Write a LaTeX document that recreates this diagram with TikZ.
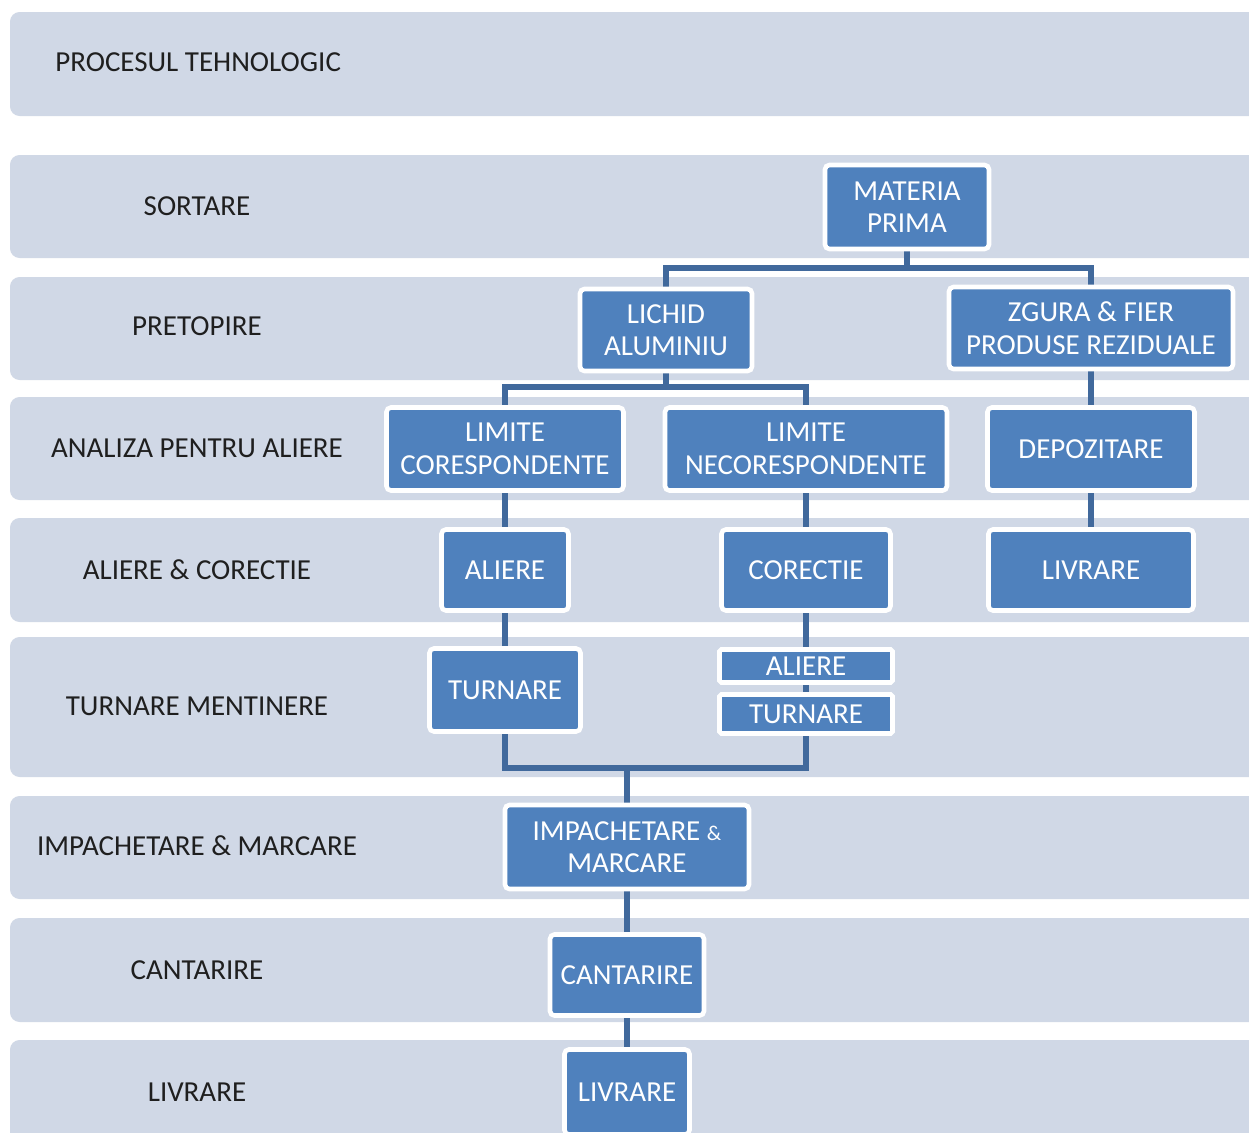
\documentclass[tikz,border=0pt]{standalone}
\usepackage{fontspec}
\setmainfont{Carlito}
\usetikzlibrary{positioning}

\definecolor{banda}{HTML}{D0D8E6}
\definecolor{cutie}{HTML}{4F81BD}
\definecolor{linie}{HTML}{41699C}

\pgfdeclarelayer{fundal}
\pgfdeclarelayer{linii}
\pgfsetlayers{fundal,linii,main}

\tikzset{
  etapa/.style={fill=banda, rounded corners=5.5pt},
  eticheta/.style={font=\fontsize{16.5}{18.5}\selectfont, text=black!88},
  cutie/.style={draw=white, line width=2.6pt, fill=cutie, rounded corners=2.5pt,
                text=white, font=\fontsize{16.5}{18.5}\selectfont, align=center, inner sep=0pt},
  legatura/.style={draw=linie, line width=3.2pt},
}

\begin{document}
\begin{tikzpicture}[x=0.02cm, y=-0.02cm]

\clip (0,0) rectangle (1249,1133);
\useasboundingbox (0,0) rectangle (1249,1133);

% --- Benzi de fundal ---
\begin{pgfonlayer}{fundal}
\fill[white] (0,0) rectangle (1249,1133);
\fill[etapa] (10,12)   rectangle (1280,116);
\fill[etapa] (10,155)  rectangle (1280,258);
\fill[etapa] (10,277)  rectangle (1280,380);
\fill[etapa] (10,397)  rectangle (1280,500);
\fill[etapa] (10,518)  rectangle (1280,622);
\fill[etapa] (10,637)  rectangle (1280,777);
\fill[etapa] (10,796)  rectangle (1280,899);
\fill[etapa] (10,918)  rectangle (1280,1022);
\fill[etapa] (10,1040) rectangle (1280,1160);
\end{pgfonlayer}

% --- Etichete etape ---
\node[eticheta, anchor=west, inner sep=0pt] (proc) at (55,62) {PROCESUL TEHNOLOGIC};
\node[eticheta] (e1) at (197,206)  {SORTARE};
\node[eticheta] (e2) at (197,326)  {PRETOPIRE};
\node[eticheta] (e3) at (197,448)  {ANALIZA PENTRU ALIERE};
\node[eticheta] (e4) at (197,570)  {ALIERE \& CORECTIE};
\node[eticheta] (e5) at (197,706)  {TURNARE MENTINERE};
\node[eticheta] (e6) at (197,846)  {IMPACHETARE \& MARCARE};
\node[eticheta] (e7) at (197,970)  {CANTARIRE};
\node[eticheta] (e8) at (197,1092) {LIVRARE};

% --- Sortare si pretopire ---
\node[cutie, minimum width=3.28cm, minimum height=1.68cm] (mp) at (907,207) {MATERIA\\PRIMA};
\node[cutie, minimum width=3.44cm, minimum height=1.64cm] (lich) at (666,330) {LICHID\\ALUMINIU};
\node[cutie, minimum width=5.68cm, minimum height=1.64cm] (zg) at (1091,328) {ZGURA \& FIER\\PRODUSE REZIDUALE};

% --- Analiza ---
\node[cutie, minimum width=4.74cm, minimum height=1.66cm] (limc) at (505,449) {LIMITE\\CORESPONDENTE};
\node[cutie, minimum width=5.64cm, minimum height=1.66cm] (limn) at (806,449) {LIMITE\\NECORESPONDENTE};
\node[cutie, minimum width=4.14cm, minimum height=1.66cm] (dep) at (1091,449) {DEPOZITARE};

% --- Aliere si corectie ---
\node[cutie, minimum width=2.54cm, minimum height=1.62cm] (al) at (505,570) {ALIERE};
\node[cutie, minimum width=3.38cm, minimum height=1.62cm] (cor) at (806,570) {CORECTIE};
\node[cutie, minimum width=4.10cm, minimum height=1.62cm] (liv1) at (1091,570) {LIVRARE};

% --- Turnare ---
\node[cutie, minimum width=3.02cm, minimum height=1.66cm] (turn) at (505,690) {TURNARE};
\node[cutie, minimum width=3.46cm, minimum height=0.66cm, rounded corners=1pt] (al2) at (806,666) {ALIERE};
\node[cutie, minimum width=3.46cm, minimum height=0.78cm, rounded corners=1pt] (turn2) at (806,714) {TURNARE};

% --- Final ---
\node[cutie, minimum width=4.88cm, minimum height=1.68cm] (imp) at (627,847) {IMPACHETARE {\fontsize{12}{14}\selectfont\&}\\MARCARE};
\node[cutie, minimum width=3.08cm, minimum height=1.62cm] (cant) at (627,975) {CANTARIRE};
\node[cutie, minimum width=2.50cm, minimum height=1.70cm] (liv2) at (627,1092) {LIVRARE};

% --- Legaturi ---
\coordinate (j1) at (907,268);
\coordinate (j2) at (666,387);
\coordinate (j3) at (627,768);
\begin{pgfonlayer}{linii}
\draw[legatura] (mp) -- (j1);
\draw[legatura] (lich) |- (j1) -| (zg);
\draw[legatura] (lich) -- (j2);
\draw[legatura] (limc) |- (j2) -| (limn);
\draw[legatura] (zg) -- (dep) -- (liv1);
\draw[legatura] (limc) -- (al) -- (turn);
\draw[legatura] (limn) -- (cor) -- (al2) -- (turn2);
\draw[legatura] (turn) |- (j3) -| (turn2);
\draw[legatura] (j3) -- (imp) -- (cant) -- (liv2);
\end{pgfonlayer}

\end{tikzpicture}
\end{document}
